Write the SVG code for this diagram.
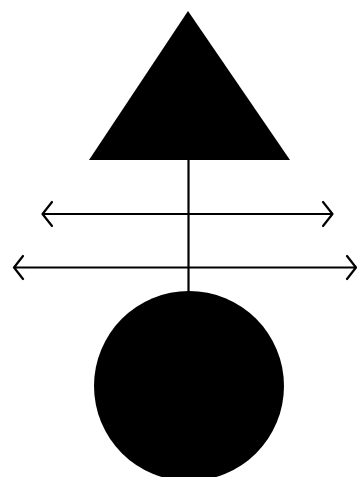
<svg xmlns="http://www.w3.org/2000/svg" width="357" height="477" viewBox="0 0 357 477">
<style>
.ln{fill:none;stroke:#000;stroke-width:2.2;stroke-linecap:round;stroke-linejoin:round}
.sh{fill:#000}
</style>
<rect width="357" height="477" fill="#fff"/>
<g id="connectors">
<path class="ln" d="M188.5 159 V291"/>
<path class="ln" d="M42.5 214 H332.5 M52 202 L42.5 214 L52 226 M323 202 L332.5 214 L323 226"/>
<path class="ln" d="M14 267.5 H356 M23 256 L14 267.5 L23 279 M347 256 L356 267.5 L347 279"/>
</g>
<g id="triangle"><polygon class="sh" points="188,11 89,160 290,160"/></g>
<g id="circle"><circle class="sh" cx="189" cy="386" r="95"/></g>
</svg>
